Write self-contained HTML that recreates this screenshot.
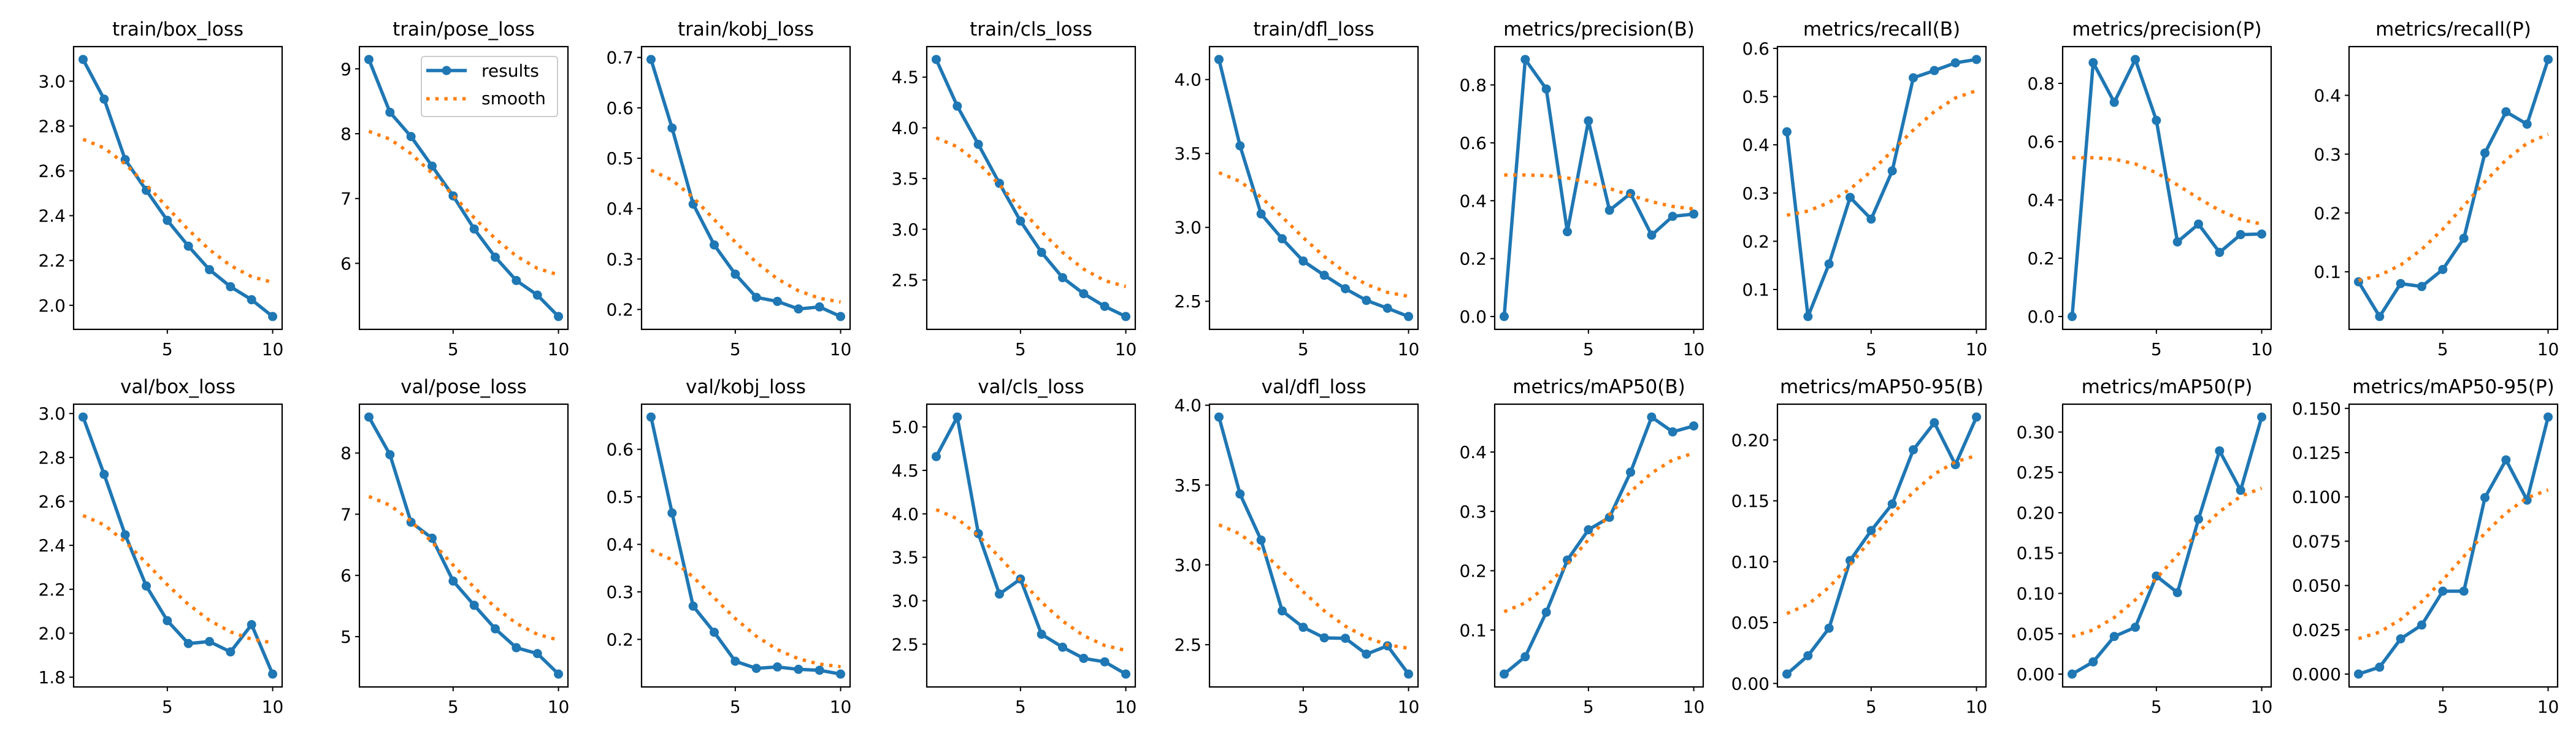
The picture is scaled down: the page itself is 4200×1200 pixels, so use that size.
<!DOCTYPE html>
<html><head><meta charset="utf-8"><style>
html,body{margin:0;padding:0;background:#fff;}
svg{display:block;font-family:"DejaVu Sans","Liberation Sans",sans-serif;}
</style></head><body>
<svg id="fig" width="4200" height="1200" viewBox="0 0 4200 1200" xmlns="http://www.w3.org/2000/svg"></svg>
<script>
const epochs = [1,2,3,4,5,6,7,8,9,10];
const titles = ["train/box_loss","train/pose_loss","train/kobj_loss","train/cls_loss","train/dfl_loss","metrics/precision(B)","metrics/recall(B)","metrics/precision(P)","metrics/recall(P)",
"val/box_loss","val/pose_loss","val/kobj_loss","val/cls_loss","val/dfl_loss","metrics/mAP50(B)","metrics/mAP50-95(B)","metrics/mAP50(P)","metrics/mAP50-95(P)"];
const trainBoxLoss = [3.097,2.92,2.65,2.513,2.379,2.264,2.159,2.083,2.025,1.95];
const trainPoseLoss = [9.145,8.33,7.956,7.5,7.04,6.53,6.095,5.735,5.51,5.18];
const trainKobjLoss = [0.696,0.560,0.409,0.328,0.270,0.224,0.216,0.201,0.205,0.186];
const trainClsLoss = [4.674,4.214,3.837,3.453,3.081,2.772,2.523,2.365,2.240,2.140];
const trainDflLoss = [4.136,3.552,3.091,2.923,2.772,2.676,2.585,2.506,2.453,2.397];
const precisionB = [0.0,0.888,0.786,0.293,0.676,0.367,0.425,0.281,0.346,0.354];
const recallB = [0.427,0.044,0.153,0.291,0.246,0.346,0.539,0.554,0.570,0.577];
const precisionP = [0.0,0.871,0.735,0.882,0.673,0.256,0.317,0.220,0.281,0.283];
const recallP = [0.083,0.024,0.080,0.075,0.104,0.157,0.302,0.372,0.351,0.461];
const valBoxLoss = [2.984,2.723,2.448,2.215,2.057,1.953,1.962,1.915,2.039,1.814];
const valPoseLoss = [8.588,7.973,6.869,6.608,5.908,5.512,5.127,4.819,4.723,4.388];
const valKobjLoss = [0.668,0.466,0.270,0.215,0.154,0.139,0.142,0.137,0.135,0.127];
const valClsLoss = [4.659,5.114,3.773,3.077,3.250,2.614,2.465,2.337,2.297,2.156];
const valDflLoss = [3.926,3.444,3.155,2.712,2.609,2.543,2.540,2.441,2.493,2.316];
const mAP50B = [0.0258,0.055,0.130,0.218,0.269,0.290,0.366,0.459,0.434,0.444];
const mAP5095B = [0.0077,0.0228,0.0454,0.101,0.1256,0.1474,0.1919,0.2141,0.1797,0.2188];
const mAP50P = [0.0,0.0151,0.0466,0.058,0.1215,0.101,0.192,0.2767,0.2278,0.3186];
const mAP5095P = [0.0,0.0039,0.0199,0.0277,0.0468,0.0468,0.0996,0.1209,0.0982,0.1451];
const seriesList = [trainBoxLoss,trainPoseLoss,trainKobjLoss,trainClsLoss,trainDflLoss,precisionB,recallB,precisionP,recallP,
valBoxLoss,valPoseLoss,valKobjLoss,valClsLoss,valDflLoss,mAP50B,mAP5095B,mAP50P,mAP5095P];
const xTicks = [5,10];
const yTickLabels = [
 ["2.0","2.2","2.4","2.6","2.8","3.0"],["6","7","8","9"],["0.2","0.3","0.4","0.5","0.6","0.7"],["2.5","3.0","3.5","4.0","4.5"],["2.5","3.0","3.5","4.0"],
 ["0.0","0.2","0.4","0.6","0.8"],["0.1","0.2","0.3","0.4","0.5","0.6"],["0.0","0.2","0.4","0.6","0.8"],["0.1","0.2","0.3","0.4"],
 ["1.8","2.0","2.2","2.4","2.6","2.8","3.0"],["5","6","7","8"],["0.2","0.3","0.4","0.5","0.6"],["2.5","3.0","3.5","4.0","4.5","5.0"],["2.5","3.0","3.5","4.0"],
 ["0.1","0.2","0.3","0.4"],["0.00","0.05","0.10","0.15","0.20"],["0.00","0.05","0.10","0.15","0.20","0.25","0.30"],["0.000","0.025","0.050","0.075","0.100","0.125","0.150"]
];

const NS = "http://www.w3.org/2000/svg";
const svg = document.getElementById('fig');
const colLefts = [120,586,1046,1511,1972,2437,2898,3363,3830];
const rowTops = [76,659];
const AW = 340, AH = 461;
function el(tag, attrs, parent){const e=document.createElementNS(NS,tag);for(const k in attrs)e.setAttribute(k,attrs[k]);(parent||svg).appendChild(e);return e;}
function gsmooth(y){
  const n=y.length, s=3, r=12; const w=[]; let sum=0;
  for(let k=-r;k<=r;k++){const v=Math.exp(-0.5*k*k/(s*s));w.push(v);sum+=v;}
  const out=[];
  for(let i=0;i<n;i++){let acc=0;for(let k=-r;k<=r;k++){let j=i+k;let m=((j%(2*n))+2*n)%(2*n);if(m>=n)m=2*n-1-m;acc+=w[k+r]*y[m];}out.push(acc/sum);}
  return out;
}
seriesList.forEach((ys,idx)=>{
  const col=idx%9,row=Math.floor(idx/9);
  const L=colLefts[col],T=rowTops[row];
  const sm=gsmooth(ys);
  const all=ys.concat(sm);
  let mn=Math.min(...all),mx=Math.max(...all);const pad=(mx-mn)*0.05;mn-=pad;mx+=pad;
  const xmin=0.55,xmax=10.45;
  const X=v=>L+(v-xmin)/(xmax-xmin)*AW;
  const Y=v=>T+AH-(v-mn)/(mx-mn)*AH;
  const g=el('g',{});
  
  
  const t=el('text',{x:L+AW/2,y:T-18,'text-anchor':'middle','font-size':31,fill:'#000'},g);
  t.textContent=titles[idx];
  
  
  // x ticks
  xTicks.forEach(v=>{
    const tl=el('line',{x1:X(v),x2:X(v),y1:T+AH,y2:T+AH+7,stroke:'#000','stroke-width':2},g);
    
    
    const tx=el('text',{x:X(v),y:T+AH+42,'text-anchor':'middle','font-size':28,fill:'#000'},g);
    tx.textContent=String(v);
    
    
  });
  yTickLabels[idx].forEach(lab=>{
    const v=parseFloat(lab); if(v<mn||v>mx)return;
    const tl=el('line',{x1:L-7,x2:L,y1:Y(v),y2:Y(v),stroke:'#000','stroke-width':2},g);
    
    
    const tx=el('text',{x:L-13,y:Y(v)+10,'text-anchor':'end','font-size':28,fill:'#000'},g);
    tx.textContent=lab;
    
    
  });
  const clipId='c'+idx;
  const cp=el('clipPath',{id:clipId},g);el('rect',{x:L,y:T,width:AW,height:AH},cp);
  const rp=el('polyline',{points:epochs.map((e,i)=>X(e)+','+Y(ys[i])).join(' '),fill:'none',stroke:'#1f77b4','stroke-width':5.5,'stroke-linejoin':'round','clip-path':'url(#'+clipId+')'},g);
  
  
  epochs.forEach((e,i)=>{
    const c=el('circle',{cx:X(e),cy:Y(ys[i]),r:7.5,fill:'#1f77b4'},g);
    
    
  });
  const sp=el('polyline',{points:epochs.map((e,i)=>X(e)+','+Y(sm[i])).join(' '),fill:'none',stroke:'#ff7f0e','stroke-width':5.5,'stroke-dasharray':'5.5 9.2'},g);
  
  
  const fr=el('rect',{x:L,y:T,width:AW,height:AH,fill:'none',stroke:'#000','stroke-width':2.2},g);
  
  
});
// legend in train/pose_loss
const lg=el('g',{});


el('rect',{x:687,y:92,width:222,height:98,rx:5,fill:'#fff','fill-opacity':0.8,stroke:'#ccc','stroke-width':2},lg);
const le1=el('line',{x1:695,x2:761,y1:115,y2:115,stroke:'#1f77b4','stroke-width':5.5},lg);


el('circle',{cx:728,cy:115,r:7.5,fill:'#1f77b4'},lg);
const lt1=el('text',{x:785,y:125,'font-size':28,fill:'#000'},lg);lt1.textContent='results';


const le2=el('line',{x1:695,x2:761,y1:161,y2:161,stroke:'#ff7f0e','stroke-width':5.5,'stroke-dasharray':'5.5 9.2'},lg);


const lt2=el('text',{x:785,y:170,'font-size':28,fill:'#000'},lg);lt2.textContent='smooth';


</script>
</body></html>
